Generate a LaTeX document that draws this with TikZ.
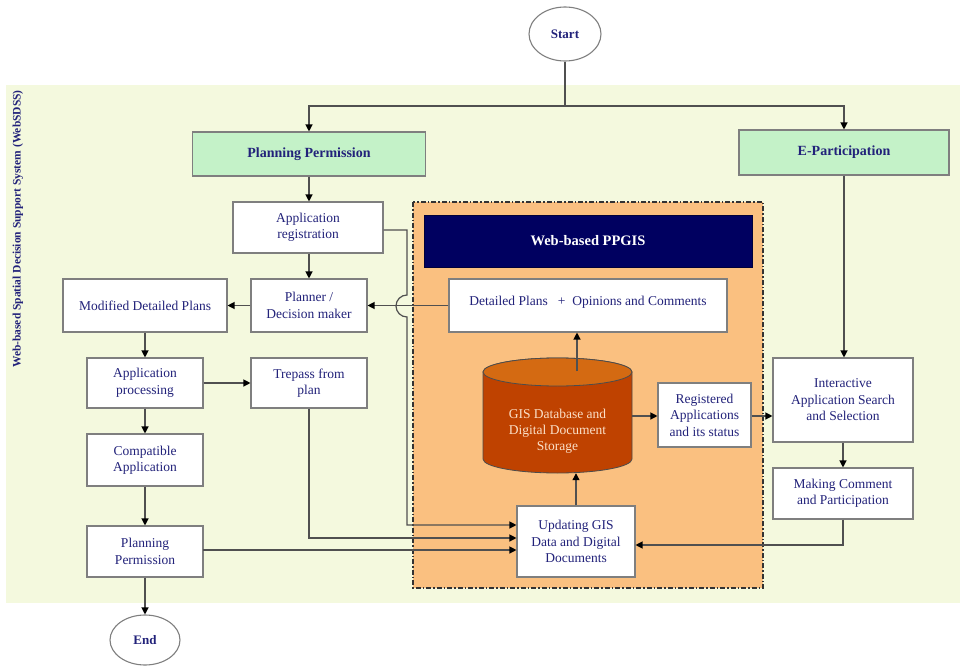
\documentclass[tikz,border=0pt]{standalone}
\usepackage{fontspec}
\setmainfont{Liberation Serif}
\usetikzlibrary{arrows.meta,shapes.geometric}
\definecolor{bglight}{HTML}{F4F9DE}
\definecolor{greenbox}{HTML}{C4F2C8}
\definecolor{orangereg}{HTML}{FAC080}
\definecolor{navyhead}{HTML}{000060}
\definecolor{cylbody}{HTML}{BF4200}
\definecolor{cyltop}{HTML}{D46A12}
\definecolor{cyltext}{HTML}{FBE0C8}
\definecolor{txtnavy}{HTML}{22227A}
\definecolor{bordergray}{HTML}{7F7F7F}
\definecolor{linegray}{HTML}{505050}
\tikzset{
  boxnode/.style={draw=bordergray, fill=white, line width=1.1pt, align=center, inner sep=0pt,
    text=txtnavy, font=\fontsize{13.5}{16.5}\selectfont},
  headbox/.style={boxnode, fill=greenbox, font=\fontsize{14}{16}\selectfont\bfseries},
  ovalnode/.style={ellipse, draw=bordergray, fill=white, line width=1.1pt, inner sep=0pt,
    text=txtnavy, font=\fontsize{13}{16}\selectfont\bfseries},
  conn/.style={draw=linegray, line width=1.2pt},
  arr/.style={conn, -{Triangle[length=7pt,width=7pt,fill=black,color=black]}}
}
\begin{document}
\begin{tikzpicture}[x=1pt,y=-1pt]
\useasboundingbox (0,0) rectangle (964,666);
% background
\fill[bglight] (6,85) rectangle (960,603);
\node[rotate=90, text=txtnavy, font=\fontsize{11.5}{13}\selectfont\bfseries] (sidelabel) at (18,229)
  {Web-based Spatial Decision Support System (WebSDSS)};
% orange region
\draw[fill=orangereg, draw=black!80, line width=1.3pt, dash pattern=on 5pt off 2pt on 1.5pt off 2pt] (413,202) rectangle (763,588);
\node[fill=navyhead, draw=navyhead!60!black, minimum width=328, minimum height=52, inner sep=0pt,
  text=white, font=\fontsize{14.5}{16}\selectfont\bfseries] (ppgis) at (588,241) {Web-based PPGIS};

% nodes
\node[ovalnode, minimum width=72, minimum height=54] (start) at (565,34) {Start};
\node[headbox, minimum width=233, minimum height=44] (pp) at (309,154) {Planning Permission};
\node[headbox, minimum width=210, minimum height=45] (ep) at (844,152.5) {E-Participation};
\node[boxnode, minimum width=150, minimum height=51] (ar) at (308,227.5) {Application\\registration};
\node[boxnode, minimum width=116, minimum height=53] (pdm) at (309,305.5) {Planner /\\Decision maker};
\node[boxnode, minimum width=164, minimum height=53] (mdp) at (145,305.5) {Modified Detailed Plans};
\node[boxnode, minimum width=116, minimum height=50] (ap) at (145,383) {Application\\processing};
\node[boxnode, minimum width=116, minimum height=50] (tp) at (309,383) {Trepass from\\plan};
\node[boxnode, minimum width=116, minimum height=52] (ca) at (145,460) {Compatible\\Application};
\node[boxnode, minimum width=116, minimum height=51] (pp2) at (145,551.5) {Planning\\Permission};
\node[ovalnode, minimum width=70, minimum height=50] (end) at (145,640) {End};
\node[boxnode, minimum width=278, minimum height=53, text depth=10pt] (dp) at (588,305.5)
  {Detailed Plans \ \ + \ Opinions and Comments};
\node[boxnode, minimum width=93, minimum height=64] (reg) at (704.5,415) {Registered\\Applications\\and its status};
\node[boxnode, minimum width=140, minimum height=84] (inter) at (843,400) {Interactive\\Application Search\\and Selection};
\node[boxnode, minimum width=140, minimum height=51] (mc) at (843,493.5) {Making Comment\\and Participation};
\node[boxnode, minimum width=118, minimum height=71] (upd) at (576,541.5) {Updating GIS\\Data and Digital\\Documents};

% cylinder
\fill[cylbody, draw=black!70, line width=0.8pt] (483,372) -- (483,459)
  arc[start angle=180, end angle=360, x radius=74.5pt, y radius=14pt] -- (632,372)
  arc[start angle=0, end angle=180, x radius=74.5pt, y radius=14pt] -- cycle;
\draw[fill=cyltop, draw=black!70, line width=0.8pt] (557.5,372) ellipse[x radius=74.5pt, y radius=14pt];
\node[inner sep=0pt, minimum width=149, minimum height=115] (db) at (557.5,415.5) {};
\node[align=center, text=cyltext, font=\fontsize{13.5}{16}\selectfont] (dbtext) at (557.5,431)
  {GIS Database and\\Digital Document\\Storage};

% connectors
\coordinate (split) at (565,106);
\draw[conn] (start.south) -- (split);
\draw[arr] (split) -| (pp.north);
\draw[arr] (split) -| (ep.north);
\draw[arr] (pp.south) -- (pp.south |- ar.north);
\draw[arr] (ar.south -| pdm.north) -- (pdm.north);
\draw[arr] (dp.west |- pdm.east) -- (pdm.east);
\draw[arr] (pdm.west) -- (mdp.east);
\draw[arr] (mdp.south) -- (ap.north);
\draw[arr] (ap.south) -- (ca.north);
\draw[arr] (ca.south) -- (pp2.north);
\draw[arr] (pp2.south) -- (end.north);
\draw[arr] (ap.east) -- (tp.west);
% registration to updating, with a jump over the horizontal line
\coordinate (j1) at (407,230);
\coordinate (j2) at (407,295);
\coordinate (j3) at (407,525);
\draw[arr] (ar.east |- j1) -- (j1) -- (j2)
  arc[start angle=90, end angle=270, radius=11pt] -- (j3) -- (j3 -| upd.west);
\coordinate (t1) at (309,538);
\draw[arr] (tp.south) -- (t1) -- (t1 -| upd.west);
\coordinate (p1) at (203,550);
\draw[arr] (p1) -- (p1 -| upd.west);
% database
\coordinate (dbtop) at (577,371);
\draw[arr] (dbtop) -- (dbtop |- dp.south);
\draw[arr] (upd.north) -- (upd.north |- db.south);
\coordinate (r1) at (632,416);
\draw[arr] (r1) -- (r1 -| reg.west);
\draw[arr] (reg.east |- r1) -- (r1 -| inter.west);
% e-participation
\draw[arr] (ep.south) -- (ep.south |- inter.north);
\draw[arr] (inter.south) -- (mc.north);
\coordinate (m1) at (843,545);
\draw[arr] (mc.south) -- (m1) -- (m1 -| upd.east);
\end{tikzpicture}
\end{document}
